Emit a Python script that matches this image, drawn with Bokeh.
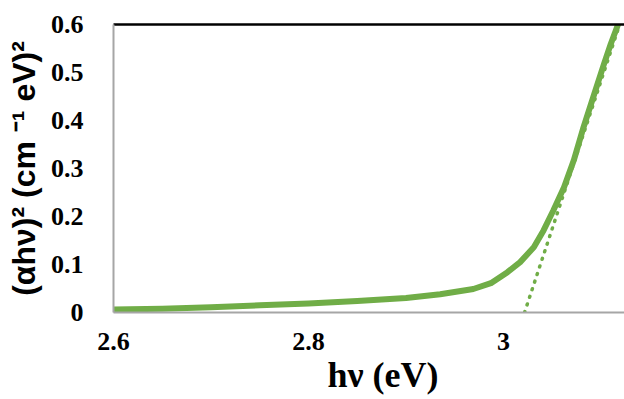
from bokeh.plotting import figure
from bokeh.models import Range1d, FixedTicker, LinearAxis, Title
from bokeh.embed import file_html
from bokeh.resources import INLINE

# ---- data ----
hv = [2.600, 2.650, 2.700, 2.750, 2.800, 2.850, 2.900, 2.935, 2.969, 2.987,
      3.004, 3.017, 3.031, 3.041, 3.051, 3.062, 3.072, 3.082, 3.092, 3.103,
      3.110, 3.117]
ahv2 = [0.006, 0.008, 0.011, 0.015, 0.019, 0.024, 0.030, 0.038, 0.049, 0.061,
        0.084, 0.105, 0.136, 0.171, 0.2125, 0.261, 0.317, 0.386, 0.449, 0.518,
        0.560, 0.598]
tangent_x = [3.0215, 3.119]
tangent_y = [0.0, 0.6]

x_ticks = [2.6, 2.8, 3.0]
x_tick_labels = ["2.6", "2.8", "3"]
y_ticks = [0.0, 0.1, 0.2, 0.3, 0.4, 0.5, 0.6]
y_tick_labels = ["0", "0.1", "0.2", "0.3", "0.4", "0.5", "0.6"]

GREEN = "#70AD47"
GRAY = "#A6A6A6"
SERIF = "Liberation Serif"
SANS = "Liberation Sans"

p = figure(frame_width=511, frame_height=288, output_backend="svg",
           toolbar_location=None, x_range=Range1d(2.6, 3.124),
           y_range=Range1d(0, 0.6), min_border_left=113, min_border_top=24,
           min_border_right=0, min_border_bottom=87)
p.background_fill_color = "white"
p.border_fill_color = "white"
p.outline_line_color = None
p.grid.visible = False

p.line(tangent_x, tangent_y, line_color=GREEN, line_width=3.5,
       line_dash="1 7", line_cap="round")
p.line(hv, ahv2, line_color=GREEN, line_width=6, line_join="round",
       line_cap="round")

xa = p.xaxis[0]
xa.ticker = FixedTicker(ticks=x_ticks)
xa.major_label_overrides = {t: l for t, l in zip(x_ticks, x_tick_labels)}
xa.major_tick_in = 0
xa.major_tick_out = 0
xa.minor_tick_in = 0
xa.minor_tick_out = 0
xa.axis_line_color = GRAY
xa.axis_line_width = 2
xa.major_label_standoff = 20
xa.major_label_text_font = SERIF
xa.major_label_text_font_style = "bold"
xa.major_label_text_font_size = "26px"
xa.major_label_text_color = "black"

ya = p.yaxis[0]
ya.ticker = FixedTicker(ticks=y_ticks)
ya.major_label_overrides = {t: l for t, l in zip(y_ticks, y_tick_labels)}
ya.major_tick_in = 0
ya.major_tick_out = 0
ya.minor_tick_in = 0
ya.minor_tick_out = 0
ya.axis_line_color = GRAY
ya.axis_line_width = 2
ya.major_label_standoff = 30
ya.major_label_text_font = SERIF
ya.major_label_text_font_style = "bold"
ya.major_label_text_font_size = "26px"
ya.major_label_text_color = "black"
ya.axis_label = "(αhν)² (cm ⁻¹ eV)²"
ya.axis_label_text_font = SANS
ya.axis_label_text_font_style = "bold"
ya.axis_label_text_font_size = "32px"
ya.axis_label_text_color = "black"
ya.axis_label_standoff = 6

top = LinearAxis(ticker=FixedTicker(ticks=[]), major_tick_in=0, major_tick_out=0,
                 minor_tick_in=0, minor_tick_out=0, axis_line_color="black",
                 axis_line_width=2.5, major_label_text_font_size="0px")
p.add_layout(top, "above")

xtitle = Title(text="hν (eV)", align="left", offset=214, standoff=0,
               text_font=SERIF, text_font_style="bold", text_font_size="36px",
               text_color="black")
p.add_layout(xtitle, "below")

open("out.html", "w").write(file_html(p, INLINE))
